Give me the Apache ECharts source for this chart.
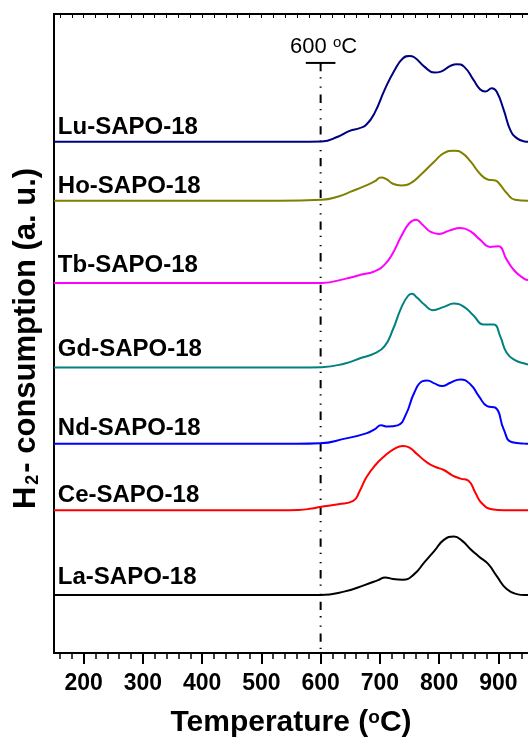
<!DOCTYPE html>
<html><head><meta charset="utf-8">
<script src="https://cdn.jsdelivr.net/npm/echarts@6/dist/echarts.min.js"></script>
<style>html,body{margin:0;padding:0;background:#fff}#c{width:528px;height:743px}</style>
</head><body><div id="c"></div>
<script>
// ---- data (temperature in °C, intensity in a.u.) ----
const seriesNames = ['La-SAPO-18','Ce-SAPO-18','Nd-SAPO-18','Gd-SAPO-18','Tb-SAPO-18','Ho-SAPO-18','Lu-SAPO-18'];
const baselines = [58, 143, 209.5, 286, 370.5, 453, 512];

const laT = [150,560,600,641,674,697,709,722,739,758,775,792,808,825,839,853,867,883,897,914,931,944,950];
const laI = [0,0,0,3.7,10,15,17.7,16,15.3,21,32.7,44.3,55.3,58.7,54.3,46,38.7,31,19.3,6,1,0,0];

const ceT = [150,529,563,585,599,630,655,666,677,691,708,725,739,750,763,780,794,808,822,836,850,861,872,889,909,950];
const ceI = [0,0,0.3,1.7,3.3,6,9.3,19.3,32.7,44.3,54.3,61.7,64.3,62.7,56,47.7,43.3,40.3,35,31.7,29.3,17.7,7,1,0,0];

const ndT = [150,560,599,641,677,691,702,713,730,744,758,772,780,792,805,819,836,853,867,881,895,909,922,944,950];
const ndI = [0,0,0.5,5.2,10.5,14.5,18.5,17.3,18.5,29.5,51.2,62.8,63.5,60.5,57.8,61.2,64.5,59.5,47.8,37.8,36.2,14.5,1.8,0.2,0];

const gdT = [150,560,602,641,669,691,708,722,736,747,754,763,775,789,808,825,842,858,875,892,903,914,928,944,950];
const gdI = [0,0,0.3,4,9.7,14,21.3,38,59.7,71.3,73.7,69.7,63,57.3,60.7,64,60.7,52,43,43,31.3,14.7,7.3,4,3];

const tbT = [150,560,602,641,669,691,708,722,736,750,761,772,786,800,817,836,853,869,886,900,914,928,944,950];
const tbI = [0,0,0.2,4.2,8.5,11.8,18.5,30.2,46.8,60.2,63.5,58.5,51.2,49.2,52.5,55.2,51.8,43.5,36.2,36.8,23.5,11.8,4.2,3];

const hoT = [150,530,602,630,652,677,691,702,711,722,736,752,769,792,808,825,839,853,869,883,895,903,914,928,950];
const hoI = [0,0,1,4.3,9.3,15.3,19.3,23.3,21.7,17,15.3,17.7,26,39.3,47.7,50,47.7,39.3,27,21,20.3,16,7.7,1,0];

const luT = [150,560,602,630,649,666,677,691,708,725,739,750,758,775,792,803,819,830,842,858,869,878,889,897,909,920,931,944,950];
const luI = [0,0,0.3,5.3,11,13.7,17,28.7,52,72,83.7,86,84.7,75.3,69.3,70.3,76,77.7,75.3,62,52.7,50.3,53.7,50.3,32,12,3.7,0.3,0];

const tempsList = [laT, ceT, ndT, gdT, tbT, hoT, luT];
const intensList = [laI, ceI, ndI, gdI, tbI, hoI, luI];

const xTickLabels = [200,300,400,500,600,700,800,900];
const markerTemp = 600;

// ---- styles ----
const colors = ['#000000','#ff0000','#0000ff','#008080','#ff00ff','#808000','#000080'];
const labelLift = [17.5, 14.5, 15.5, 18, 18, 14.5, 14];
const FONT = '"Liberation Sans", Arial, Helvetica, sans-serif';
const xMin = 150, xMax = 950, yMin = 0, yMax = 640;
const pxPerDeg = 0.598;

const minorTicks = [];
for (let t = 160; t < xMax; t += 20) if (t % 100 !== 0) minorTicks.push(t);
const topTicks = [];
for (let t = 160; t < xMax; t += 20) topTicks.push(t);

const chart = echarts.init(document.getElementById('c'), null, {renderer: 'canvas'});

const series = [];
seriesNames.forEach((name, i) => {
  series.push({
    name, type: 'line', xAxisIndex: 0, yAxisIndex: 0,
    data: tempsList[i].map((t, j) => [t, baselines[i] + intensList[i][j]]),
    showSymbol: false, symbol: 'none', smooth: 0.5,
    lineStyle: {color: colors[i], width: 2}, itemStyle: {color: colors[i]},
    z: 3, silent: true, animation: false
  });
});

// series labels
series.push({
  type: 'scatter', symbolSize: 0, silent: true, animation: false, z: 5,
  itemStyle: {opacity: 1},
  data: seriesNames.map((n, i) => ({
    value: [156.5, baselines[i] + labelLift[i]], name: n
  })),
  label: {
    show: true, position: 'right', distance: 0,
    formatter: p => p.name,
    fontFamily: FONT, fontSize: 24, fontWeight: 'bold', color: '#000', opacity: 1
  }
});

// 600 °C marker: vertical dash-dot line and top cap
const capV = 591;
series.push({
  type: 'line', symbol: 'none', silent: true, animation: false, z: 2,
  data: [[markerTemp, capV], [markerTemp, yMin]],
  lineStyle: {color: '#000', width: 2, type: [8.3, 6, 1.3, 8, 1.3, 6.8]}
});
series.push({
  type: 'line', symbol: 'none', silent: true, animation: false, z: 2,
  data: [[markerTemp - 25, capV], [markerTemp + 25, capV]],
  lineStyle: {color: '#000', width: 2}
});
series.push({
  type: 'scatter', symbolSize: 0, silent: true, animation: false, z: 5,
  itemStyle: {opacity: 1},
  data: [[markerTemp + 5, 607]],
  label: {
    show: true, position: 'inside',
    formatter: '600 {s|o}C',
    fontFamily: FONT, fontSize: 22, color: '#000', opacity: 1,
    rich: {s: {fontFamily: FONT, fontSize: 15, color: '#000', verticalAlign: 'top', padding: [0, 0, 8, 0]}}
  }
});

const option = {
  animation: false,
  backgroundColor: '#fff',
  grid: {left: 54, top: 14, width: (xMax - xMin) * pxPerDeg, height: 640, containLabel: false},
  xAxis: [
    {
      type: 'value', min: xMin, max: xMax, position: 'bottom',
      axisLine: {show: true, onZero: false, lineStyle: {color: '#000', width: 2}},
      axisTick: {show: true, inside: false, length: 11, customValues: xTickLabels, lineStyle: {color: '#000', width: 2}},
      axisLabel: {show: true, customValues: xTickLabels, margin: 19, fontFamily: FONT, fontSize: 23, fontWeight: 'bold', color: '#000'},
      splitLine: {show: false},
      name: 'Temperature ({s|o}C)', nameLocation: 'middle', nameGap: 55,
      nameTextStyle: {fontFamily: FONT, fontSize: 30, fontWeight: 'bold', color: '#000',
        rich: {s: {fontFamily: FONT, fontSize: 19, fontWeight: 'bold', color: '#000', verticalAlign: 'top', padding: [0,0,10,0]}}}
    },
    {
      type: 'value', min: xMin, max: xMax, position: 'bottom', offset: 0,
      axisLine: {show: false, onZero: false},
      axisTick: {show: true, inside: false, length: 6, customValues: minorTicks, lineStyle: {color: '#000', width: 1.5}},
      axisLabel: {show: false}, splitLine: {show: false}
    },
    {
      type: 'value', min: xMin, max: xMax, position: 'top', offset: 0,
      axisLine: {show: true, onZero: false, lineStyle: {color: '#000', width: 2}},
      axisTick: {show: true, inside: true, length: 4, customValues: topTicks, lineStyle: {color: '#000', width: 1}},
      axisLabel: {show: false}, splitLine: {show: false}
    }
  ],
  yAxis: [{
    type: 'value', min: yMin, max: yMax, position: 'left',
    axisLine: {show: true, onZero: false, lineStyle: {color: '#000', width: 2}},
    axisTick: {show: false}, axisLabel: {show: false}, splitLine: {show: false},
    name: 'H{s|2}- consumption (a. u.)', nameLocation: 'middle', nameGap: 12, nameRotate: 90,
    nameTextStyle: {fontFamily: FONT, fontSize: 31, fontWeight: 'bold', color: '#000', padding: [0, 10, 0, 0],
      rich: {s: {fontFamily: FONT, fontSize: 18, fontWeight: 'bold', color: '#000', verticalAlign: 'bottom', padding: [14,2,0,2]}}}
  }],
  series
};
chart.setOption(option);
</script></body></html>
